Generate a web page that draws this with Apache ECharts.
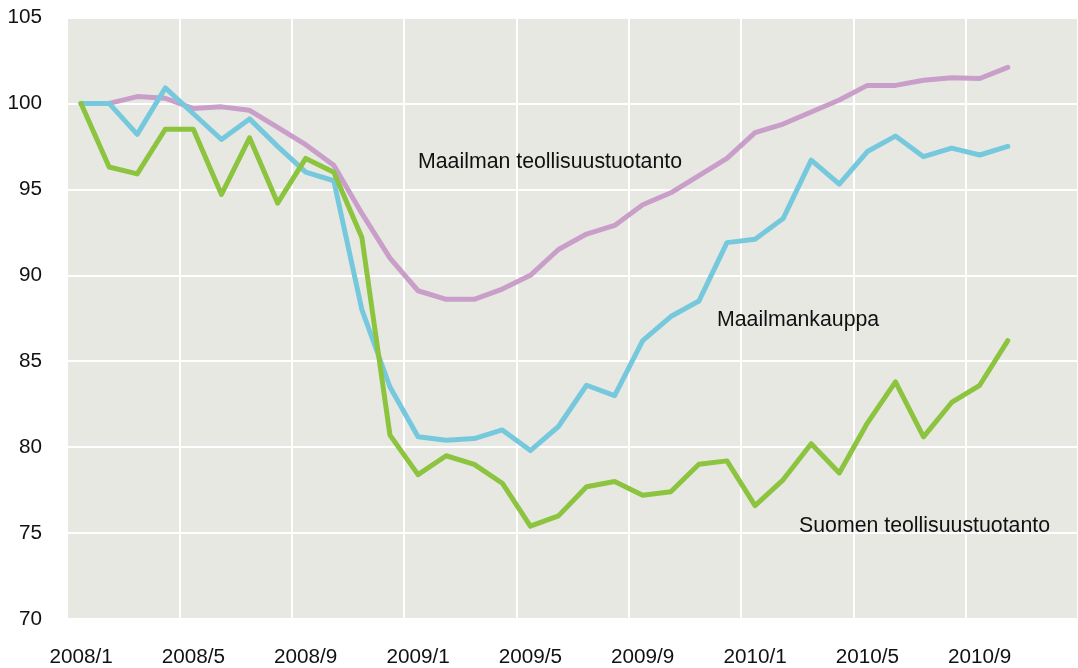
<!DOCTYPE html>
<html>
<head>
<meta charset="utf-8">
<script src="https://cdn.jsdelivr.net/npm/echarts@6/dist/echarts.min.js"></script>
<style>
  html, body { margin: 0; padding: 0; background: #fff; }
  #chart { width: 1078px; height: 668px; }
</style>
</head>
<body>
<div id="chart"></div>
<script>
/* Months 2008/1 – 2010/12, index 2008/1 = 100 */
const months = [];
for (let y = 2008; y <= 2010; y++) {
  for (let m = 1; m <= 12; m++) months.push(y + '/' + m);
}

// Maailman teollisuustuotanto
const worldProduction = [
  100, 100, 100.4, 100.3, 99.7, 99.8, 99.6, 98.6, 97.6, 96.4,
  93.6, 91.0, 89.1, 88.6, 88.6, 89.2, 90.0, 91.5, 92.4, 92.9,
  94.1, 94.8, 95.8, 96.8, 98.3, 98.8, 99.5, 100.2, 101.05, 101.05,
  101.35, 101.5, 101.45, 102.1
];

// Maailmankauppa
const worldTrade = [
  100, 100, 98.2, 100.9, 99.4, 97.9, 99.1, 97.5, 96.0, 95.5,
  88.0, 83.5, 80.6, 80.4, 80.5, 81.0, 79.8, 81.2, 83.6, 83.0,
  86.2, 87.6, 88.5, 91.9, 92.1, 93.3, 96.7, 95.3, 97.2, 98.1,
  96.9, 97.4, 97.0, 97.5
];

// Suomen teollisuustuotanto
const finlandProduction = [
  100, 96.3, 95.9, 98.5, 98.5, 94.7, 98.0, 94.2, 96.8, 96.0,
  92.2, 80.7, 78.4, 79.5, 79.0, 77.9, 75.4, 76.0, 77.7, 78.0,
  77.2, 77.4, 79.0, 79.2, 76.6, 78.1, 80.2, 78.5, 81.4, 83.8,
  80.6, 82.6, 83.6, 86.2
];

const seriesNames = ['Maailman teollisuustuotanto', 'Maailmankauppa', 'Suomen teollisuustuotanto'];
const seriesColors = ['#c99fca', '#76c9dd', '#8cc43f'];

const chart = echarts.init(document.getElementById('chart'));
const font = { fontFamily: 'Liberation Sans, Arial, sans-serif', fontSize: 20.7, color: '#111' };
const labelFont = '21.3px "Liberation Sans", Arial, sans-serif';

function line(name, data, color) {
  return {
    name, data, type: 'line',
    symbol: 'none',
    animation: false,
    lineStyle: { color, width: 5, cap: 'round', join: 'round' },
    itemStyle: { color }
  };
}

function note(text, left, top) {
  return { type: 'text', left, top, z: 100, style: { text, font: labelFont, fill: '#111' } };
}

chart.setOption({
  animation: false,
  grid: {
    left: 67, top: 17.5, width: 1025, height: 602,
    show: true, backgroundColor: '#e8e8e3', borderWidth: 0
  },
  xAxis: {
    type: 'category',
    data: months,
    boundaryGap: true,
    axisLine: { show: false },
    axisTick: { show: false },
    axisLabel: { ...font, interval: 3, margin: 28 },
    splitLine: { show: true, interval: 3, lineStyle: { color: '#fff', width: 2 } }
  },
  yAxis: {
    type: 'value',
    min: 70, max: 105, interval: 5,
    axisLine: { show: false },
    axisTick: { show: false },
    axisLabel: { ...font, margin: 25 },
    splitLine: { lineStyle: { color: '#fff', width: 2 } }
  },
  graphic: [
    note(seriesNames[0], 418, 152),
    note(seriesNames[1], 717, 310),
    note(seriesNames[2], 799, 516)
  ],
  series: [
    line(seriesNames[0], worldProduction, seriesColors[0]),
    line(seriesNames[1], worldTrade, seriesColors[1]),
    line(seriesNames[2], finlandProduction, seriesColors[2])
  ]
});
</script>
</body>
</html>
